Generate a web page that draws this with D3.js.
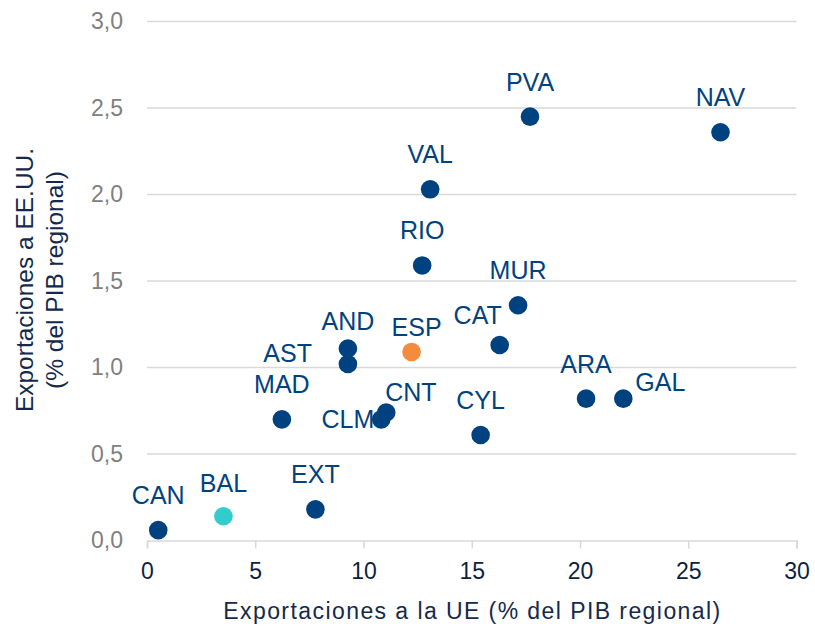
<!DOCTYPE html>
<html>
<head>
<meta charset="utf-8">
<script src="https://cdn.jsdelivr.net/npm/d3@7"></script>
<style>
  body { margin: 0; background: #fff; }
  svg text { font-family: "Liberation Sans", Arial, sans-serif; }
</style>
</head>
<body>
<div id="chart"></div>
<script>
// regiones (CCAA) y exportaciones en % del PIB regional
var regions   = ["CAN", "BAL", "MAD", "EXT", "AST", "AND", "ESP", "CLM", "CNT", "CYL", "CAT", "MUR", "RIO", "VAL", "PVA", "ARA", "GAL", "NAV"];
var euExports = [0.52, 3.53, 6.23, 7.78, 9.28, 9.28, 12.22, 10.82, 11.05, 15.41, 16.29, 17.14, 12.71, 13.08, 17.69, 20.28, 22.0, 26.49];
var usExports = [0.06, 0.14, 0.70, 0.18, 1.02, 1.11, 1.09, 0.70, 0.74, 0.61, 1.13, 1.36, 1.59, 2.03, 2.45, 0.82, 0.82, 2.36];

var xTicks = [0, 5, 10, 15, 20, 25, 30];
var yTicks = [0, 0.5, 1.0, 1.5, 2.0, 2.5, 3.0];

var xTitle = "Exportaciones a la UE (% del PIB regional)";
var yTitle = ["Exportaciones a EE.UU.", "(% del PIB regional)"];

// colores especiales
var pointColor = { ESP: "#f58b3c", BAL: "#33cccc" };
var navy = "#00427f";

// colocacion manual de etiquetas (por defecto: encima)
var labelPlace = {
    AST: { dx: -36, dy: -2, anchor: "end" },
    CLM: { dx: -7, dy: 9, anchor: "end" },
    CNT: { dx: -1, dy: -11, anchor: "start" },
    CAT: { dx: -22, dy: -21, anchor: "middle" },
    GAL: { dx: 12, dy: -8, anchor: "start" },
    ESP: { dx: 5, dy: -16, anchor: "middle" },
    AND: { dx: 0, dy: -18, anchor: "middle" },
    BAL: { dx: 0, dy: -24, anchor: "middle" }
};

var width = 815, height = 626;
var svg = d3.select("#chart").append("svg").attr("width", width).attr("height", height);

var x = d3.scaleLinear().domain([0, 30]).range([147, 796.5]);
var y = d3.scaleLinear().domain([0, 3]).range([540.5, 21.5]);

// rejilla horizontal
svg.append("g").selectAll("line").data(yTicks.slice(1)).enter().append("line")
    .attr("x1", x(0)).attr("x2", x(30))
    .attr("y1", function(d){ return y(d); }).attr("y2", function(d){ return y(d); })
    .attr("stroke", "#d9d9d9").attr("stroke-width", 1.5);

// eje x
var xAxis = svg.append("g").attr("transform", "translate(0," + y(0) + ")")
    .call(d3.axisBottom(x).tickValues(xTicks).tickSize(8).tickPadding(14).tickFormat(d3.format("d")));
xAxis.select(".domain").attr("stroke", "#d9d9d9").attr("stroke-width", 1.5);
xAxis.selectAll(".tick line").attr("stroke", "#d9d9d9").attr("stroke-width", 1.5);
xAxis.selectAll(".tick text").attr("fill", "#0d1f3f").attr("font-size", 23)
    .attr("font-family", "Liberation Sans, Arial, sans-serif");

// eje y
var fmt = function(d){ return d3.format(".1f")(d).replace(".", ","); };
var yAxis = svg.append("g").attr("transform", "translate(" + x(0) + ",0)")
    .call(d3.axisLeft(y).tickValues(yTicks).tickSize(0).tickPadding(24).tickFormat(fmt));
yAxis.select(".domain").remove();
yAxis.selectAll(".tick text").attr("fill", "#808080").attr("font-size", 23)
    .attr("font-family", "Liberation Sans, Arial, sans-serif");

// titulos
svg.append("text")
    .attr("x", (x(0) + x(30)) / 2).attr("y", 619)
    .attr("text-anchor", "middle").attr("font-size", 23).attr("fill", "#14294b")
    .attr("textLength", 497).attr("lengthAdjust", "spacing")
    .text(xTitle);

var yt = svg.append("text")
    .attr("transform", "translate(0,280) rotate(-90)")
    .attr("text-anchor", "middle").attr("font-size", 24.5).attr("fill", "#14294b");
yt.append("tspan").attr("x", 0).attr("y", 33).text(yTitle[0]);
yt.append("tspan").attr("x", 0).attr("y", 63).text(yTitle[1]);

// puntos
var pts = regions.map(function(r, i){ return { name: r, ue: euExports[i], us: usExports[i] }; });

svg.append("g").selectAll("circle").data(pts).enter().append("circle")
    .attr("cx", function(d){ return x(d.ue); })
    .attr("cy", function(d){ return y(d.us); })
    .attr("r", 9.3)
    .attr("fill", function(d){ return pointColor[d.name] || navy; });

// etiquetas
svg.append("g").selectAll("text").data(pts).enter().append("text")
    .attr("x", function(d){ var p = labelPlace[d.name]; return x(d.ue) + (p ? p.dx : 0); })
    .attr("y", function(d){ var p = labelPlace[d.name]; return y(d.us) + (p ? p.dy : -26); })
    .attr("text-anchor", function(d){ var p = labelPlace[d.name]; return p ? p.anchor : "middle"; })
    .attr("font-size", 25)
    .attr("fill", "#00427f")
    .text(function(d){ return d.name; });
</script>
</body>
</html>
